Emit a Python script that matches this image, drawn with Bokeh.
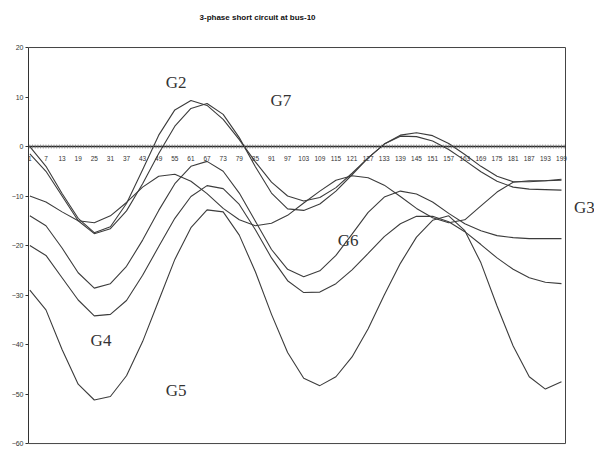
import math
from bokeh.plotting import figure
from bokeh.models import Range1d, FixedTicker, Label, ColumnDataSource
from bokeh.core.properties import value
from bokeh.embed import file_html
from bokeh.resources import INLINE

# sample index (category) of each read-off value
sample = [1, 7, 13, 19, 25, 31, 37, 43, 49, 55, 61, 67, 73, 79, 85, 91, 97,
          103, 109, 115, 121, 127, 133, 139, 145, 151, 157, 163, 169, 175,
          181, 187, 193, 199]

curve_a = [0, -4, -9.5, -14.5, -17.4, -16.2, -11.5, -4.7, 2.3, 7.4, 9.3, 8.3,
           5.5, 1.4, -3.1, -7.2, -10, -11, -10.3, -8.3, -5.4, -2.3, 0.5, 2.3,
           2.8, 2.2, 0.6, -1.6, -4.0, -6.0, -7.1, -7.1, -6.9, -6.6]
curve_b = [-1.5, -5, -10, -15, -17.6, -16.6, -13, -7.5, -1.4, 4.1, 7.7, 8.7,
           6.5, 1.8, -4.1, -9.4, -12.6, -12.9, -11.6, -9.0, -5.7, -2.3, 0.5,
           2.1, 2.0, 1.1, -0.6, -2.8, -5.1, -7.0, -8.2, -8.6, -8.7, -8.8]
curve_c = [-10, -11.2, -13.2, -15, -15.4, -14, -11.3, -8.2, -6, -5.6, -7, -9.5,
           -12.5, -14.8, -16, -15.5, -13.9, -11.4, -9, -6.8, -5.9, -6.3, -7.8,
           -10.1, -12.5, -14.4, -15.4, -14.8, -12, -9.2, -7.2, -6.9, -6.9, -6.8]
curve_d = [-14, -16, -20.5, -25.5, -28.6, -27.7, -24.2, -18.9, -12.9, -7.5, -4,
           -3, -5, -9.4, -15.1, -20.8, -24.8, -26.3, -25.1, -22, -17.7, -13.3,
           -10.2, -9, -9.6, -11.2, -13.5, -15.6, -17, -18, -18.4, -18.6, -18.6,
           -18.6]
curve_e = [-20, -22, -26.5, -31, -34.2, -33.9, -31.1, -26, -20.2, -14.5, -10.1,
           -7.9, -8.5, -11.7, -16.8, -22.5, -27.1, -29.5, -29.4, -27.7, -24.9,
           -21.6, -18.2, -15.6, -14.1, -14.1, -15.2, -17.2, -19.8, -22.5,
           -24.8, -26.5, -27.4, -27.7]
curve_f = [-29, -33, -41, -48, -51.2, -50.5, -46.3, -39.4, -31.1, -22.8, -16.4,
           -12.8, -13.2, -17.9, -25.3, -33.9, -41.6, -46.8, -48.3, -46.5, -42.5,
           -36.8, -30, -23.6, -18.3, -14.9, -14, -17, -23.5, -32.2, -40.3,
           -46.5, -49, -47.5]

# category axis: every category gets a tick mark, every 6th a label
categories = list(range(1, 201))
tick_labels = ["1", "7", "13", "19", "25", "31", "37", "43", "49", "55", "61",
               "67", "73", "79", "85", "91", "97", "103", "109", "115", "121",
               "127", "133", "139", "145", "151", "157", "163", "169", "175",
               "181", "187", "193", "199"]
y_ticks = [-60, -50, -40, -30, -20, -10, 0, 10, 20]

# annotations (name, category, value)
names = ["G2", "G7", "G6", "G4", "G5", "G3"]
name_x = [55.5, 94.5, 119.5, 27.5, 55.5, 207.5]
name_y = [12.9, 9.3, -19.0, -39.2, -49.3, -12.4]

title_text = "3-phase short circuit at bus-10"

# plot box (category axis spans 0.5..200.5, values -60..20);
# the view reaches a little beyond it for the title and the G3 note
x_lo, x_hi = 0.5, 200.5
y_lo, y_hi = -60, 20
x_view_hi = 211.3
y_view_lo, y_view_hi = -61.2, 29.5

p = figure(width=594, height=449, output_backend="svg", toolbar_location=None,
           x_range=Range1d(x_lo, x_view_hi), y_range=Range1d(y_view_lo, y_view_hi),
           x_axis_location=None,
           min_border_left=28, min_border_right=0, min_border_top=0,
           min_border_bottom=0)
p.grid.visible = False
p.outline_line_color = None
p.background_fill_color = "white"
p.border_fill_color = "white"

ya = p.yaxis[0]
ya.bounds = (y_lo, y_hi)
ya.ticker = FixedTicker(ticks=y_ticks)
ya.major_tick_in = 0
ya.major_tick_out = 3
ya.minor_tick_in = 0
ya.minor_tick_out = 0
ya.major_label_standoff = 2
ya.major_label_text_font = "Liberation Sans"
ya.major_label_text_font_size = "7px"
ya.major_label_text_color = "#333333"
ya.axis_line_color = "#333333"
ya.major_tick_line_color = "#333333"

# box edges: top, bottom, right
p.segment(x0=[x_lo, x_lo, x_hi], y0=[y_hi, y_lo, y_lo],
          x1=[x_hi, x_hi, x_hi], y1=[y_hi, y_lo, y_hi],
          line_color="#444444", line_width=1)

line_color = "#3c3c3c"
for ys in [curve_a, curve_b, curve_c, curve_d, curve_e, curve_f]:
    p.line(sample, ys, line_color=line_color, line_width=1.1)

# zero line with category ticks
p.segment(x0=[x_lo], y0=[0], x1=[x_hi], y1=[0], line_color="#222222", line_width=1.6)
p.scatter(categories, [0] * len(categories), marker="dash", angle=math.pi / 2,
          size=4, line_color="#777777", line_width=0.7)

lab_src = ColumnDataSource(dict(x=[int(s) for s in tick_labels],
                                y=[0] * len(tick_labels), t=tick_labels))
p.text(x="x", y="y", text="t", source=lab_src, text_align="center",
       text_baseline="middle", y_offset=12, text_font=value("Liberation Sans"),
       text_font_size="6.5px", text_color="#333333")

for n, x, y in zip(names, name_x, name_y):
    p.add_layout(Label(x=x, y=y, text=n, text_align="center", text_baseline="middle",
                       text_font="Liberation Serif", text_font_size="17px",
                       text_color="#333333"))

p.add_layout(Label(x=85.8, y=26.1, text=title_text, text_align="center",
                   text_baseline="middle", text_font="Liberation Sans",
                   text_font_size="8px", text_font_style="bold",
                   text_color="#111111"))

open("out.html", "w").write(file_html(p, INLINE))
